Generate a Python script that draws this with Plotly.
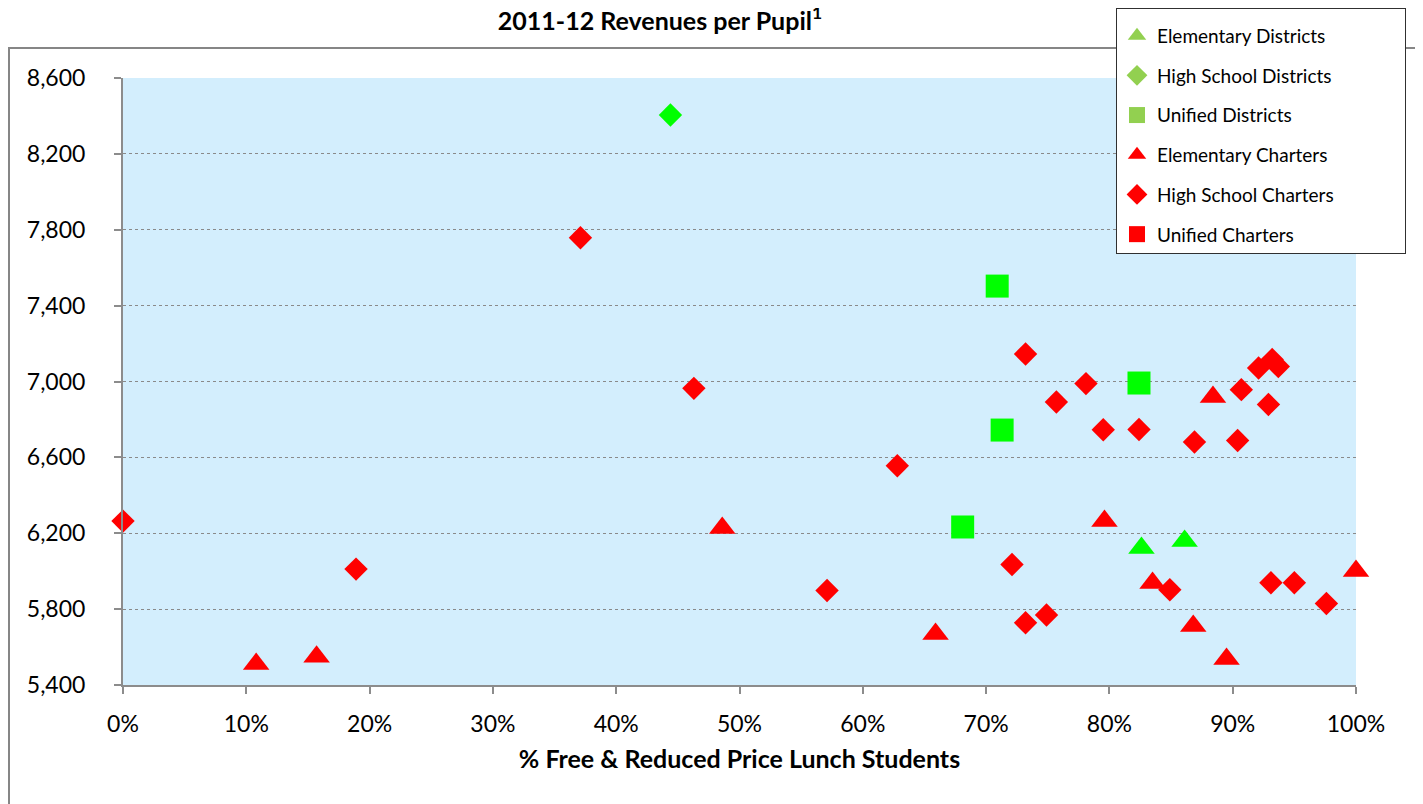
import plotly.graph_objects as go

# ---- data (fraction free/reduced lunch, revenue per pupil) ----
elem_dist_x = [0.826, 0.861]
elem_dist_y = [6122, 6159]

hs_dist_x = [0.444]
hs_dist_y = [8405]

unif_dist_x = [0.709, 0.713, 0.824, 0.681]
unif_dist_y = [7503, 6744, 6992, 6233]

elem_chart_x = [0.108, 0.157, 0.486, 0.659, 0.796, 0.835, 0.868, 0.884, 0.895, 1.000]
elem_chart_y = [5511, 5549, 6228, 5669, 6264, 5938, 5711, 6918, 5537, 6001]

hs_chart_x = [0.000, 0.189, 0.371, 0.463, 0.571, 0.628, 0.721, 0.732, 0.732, 0.749,
              0.757, 0.781, 0.795, 0.824, 0.849, 0.869, 0.907, 0.904, 0.929, 0.921,
              0.932, 0.937, 0.931, 0.950, 0.976]
hs_chart_y = [6264, 6011, 7758, 6964, 5898, 6556, 6035, 5728, 7145, 5769,
              6892, 6989, 6746, 6747, 5902, 6681, 6957, 6689, 6879, 7071,
              7116, 7079, 5939, 5939, 5830]

unif_chart_x = []
unif_chart_y = []

legend_names = ["Elementary Districts", "High School Districts", "Unified Districts",
                "Elementary Charters", "High School Charters", "Unified Charters"]

GREEN = "#00FF00"
RED = "#FF0000"
LEG_GREEN = "#92D050"

fig = go.Figure()

series = [
    (elem_dist_x, elem_dist_y, "triangle-up", GREEN, 23),
    (hs_dist_x, hs_dist_y, "diamond", GREEN, 18),
    (unif_dist_x, unif_dist_y, "square", GREEN, 23),
    (elem_chart_x, elem_chart_y, "triangle-up", RED, 23),
    (hs_chart_x, hs_chart_y, "diamond", RED, 18),
    (unif_chart_x, unif_chart_y, "square", RED, 23),
]
leg_colors = [LEG_GREEN, LEG_GREEN, LEG_GREEN, RED, RED, RED]

for (xs, ys, sym, col, sz), name in zip(series, legend_names):
    fig.add_trace(go.Scatter(
        x=xs, y=ys, mode="markers", name=name, showlegend=False,
        marker=dict(symbol=sym, color=col, size=sz, line=dict(width=0)),
        cliponaxis=False, hoverinfo="x+y",
    ))

# legend entries (widest label padded so the box spans like the original)
for i, ((xs, ys, sym, col, sz), name, lc) in enumerate(zip(series, legend_names, leg_colors)):
    label = name + ("\u00a0" * 14 if i == 1 else "")
    fig.add_trace(go.Scatter(
        x=[None], y=[None], mode="markers", name=label, legendgroup=name,
        marker=dict(symbol=sym, color=lc, size=sz, line=dict(width=0)),
    ))

FONT = "Lato, 'Liberation Sans', Arial, sans-serif"

# figure is placed by the page at an 8px offset
W, H = 1415, 796
L, R, T, B = 115, 67, 70, 119
PW, PH = W - L - R, H - T - B

fig.update_layout(
    width=W, height=H,
    margin=dict(l=L, r=R, t=T, b=B, autoexpand=False),
    paper_bgcolor="white",
    plot_bgcolor="#D3EEFD",
    font=dict(family=FONT, color="black"),
    title=dict(
        text="<b>2011-12 Revenues per Pupil<sup>1</sup></b>",
        font=dict(size=25, family=FONT, color="black"),
        x=(660 - 8) / W, xref="container", xanchor="center",
        y=1.0, yref="container", yanchor="top", pad=dict(t=4),
    ),
    xaxis=dict(
        range=[0, 1], dtick=0.1, tick0=0, tickformat=".0%",
        showgrid=False, zeroline=False,
        showline=True, linecolor="#8C8C8C", linewidth=2,
        ticks="outside", ticklen=7, tickcolor="#8C8C8C", tickwidth=2,
        tickfont=dict(size=23, family=FONT),
        ticklabelstandoff=10,
        title=dict(text="<b>% Free & Reduced Price Lunch Students</b>",
                   font=dict(size=25, family=FONT), standoff=15),
    ),
    yaxis=dict(
        range=[5400, 8600], dtick=400, tick0=5400, tickformat=",",
        showgrid=True, gridcolor="#8A8A8A", gridwidth=1, griddash="dot",
        zeroline=False,
        showline=True, linecolor="#8C8C8C", linewidth=2,
        ticks="outside", ticklen=7, tickcolor="#8C8C8C", tickwidth=2,
        tickfont=dict(size=23, family=FONT),
        ticklabelstandoff=24,
    ),
    legend=dict(
        x=(1108 - L) / PW, y=(T + PH - 0) / PH,
        xanchor="left", yanchor="top",
        bgcolor="white", bordercolor="#303030", borderwidth=1,
        font=dict(size=19, family=FONT, color="black"),
        title=dict(text=" ", font=dict(size=6)),
        tracegroupgap=12,
        itemsizing="trace",
    ),
    showlegend=True,
)

# outer chart-area border
fig.add_shape(type="rect", xref="paper", yref="paper",
              x0=(1 - L) / PW, x1=(W + 10 - L) / PW,
              y0=(T + PH - (H + 10)) / PH, y1=(T + PH - 40) / PH,
              line=dict(color="#868686", width=2), fillcolor="rgba(0,0,0,0)",
              layer="below")

fig.write_html("out.html")
